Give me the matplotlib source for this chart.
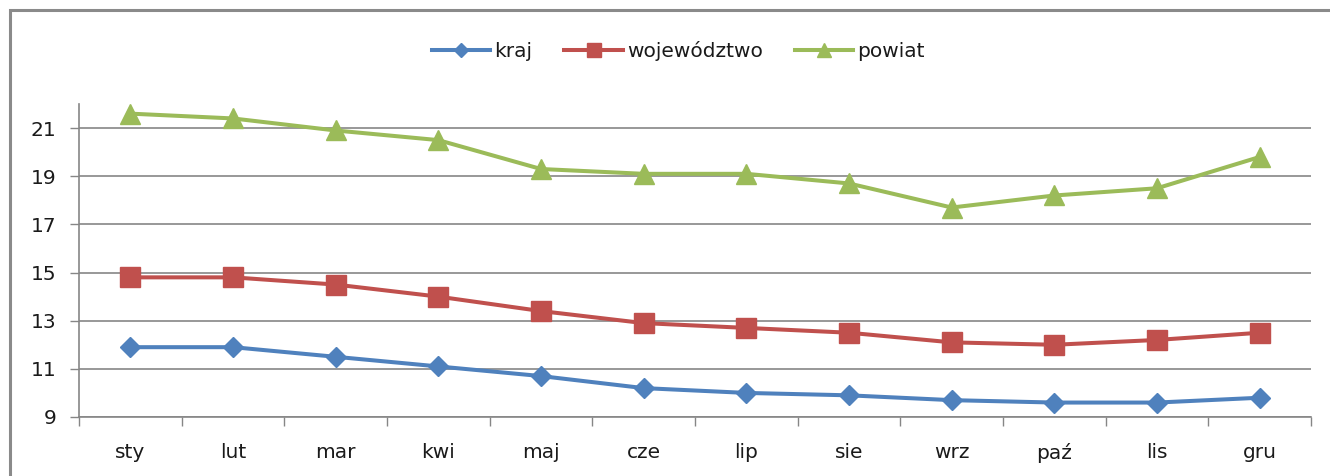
import numpy as np
import matplotlib.pyplot as plt
from matplotlib.patches import Rectangle

# data
months = ['sty', 'lut', 'mar', 'kwi', 'maj', 'cze', 'lip', 'sie', 'wrz', 'paź', 'lis', 'gru']
kraj = [11.9, 11.9, 11.5, 11.1, 10.7, 10.2, 10.0, 9.9, 9.7, 9.6, 9.6, 9.8]
wojewodztwo = [14.8, 14.8, 14.5, 14.0, 13.4, 12.9, 12.7, 12.5, 12.1, 12.0, 12.2, 12.5]
powiat = [21.6, 21.4, 20.9, 20.5, 19.3, 19.1, 19.1, 18.7, 17.7, 18.2, 18.5, 19.8]
y_ticks = [9, 11, 13, 15, 17, 19, 21]

plt.rcParams['font.family'] = ['DejaVu Sans']
plt.rcParams['text.color'] = '#1a1a1a'

fig = plt.figure(figsize=(13.3, 4.76), dpi=100)
ax = fig.add_axes([79 / 1330, 59 / 476, 1232 / 1330, 313 / 476])

# outer chart frame (no right edge visible in the reference)
fig.patches.append(Rectangle((10 / 1330, -0.1), 1.1, 1.1 - 10 / 476,
                             transform=fig.transFigure, fill=False,
                             edgecolor='#8a8a8a', linewidth=2.2))

x = np.arange(len(months))
ax.plot(x, kraj, color='#4F81BD', lw=2.9, marker='D', ms=10, label='kraj')
ax.plot(x, wojewodztwo, color='#C0504D', lw=2.9, marker='s', ms=14, label='województwo')
ax.plot(x, powiat, color='#9BBB59', lw=2.9, marker='^', ms=15, label='powiat')

ax.set_xlim(-0.5, len(months) - 0.5)
ax.set_ylim(9, 22)
ax.set_yticks(y_ticks)
ax.set_xticks(x)
ax.set_xticklabels(months)
ax.set_xticks(np.arange(-0.5, len(months)), minor=True)
ax.tick_params(axis='x', which='major', length=0, pad=19, labelsize=14.5, labelcolor='#1a1a1a')
ax.tick_params(axis='x', which='minor', length=6.5, color='#868686', width=1)
ax.tick_params(axis='y', length=6.5, color='#868686', width=1, labelsize=14.5, pad=10,
               labelcolor='#1a1a1a')
ax.grid(axis='y', color='#868686', lw=1.2)
ax.set_axisbelow(True)
for s in ['top', 'right']:
    ax.spines[s].set_visible(False)
for s in ['left', 'bottom']:
    ax.spines[s].set_color('#868686')
    ax.spines[s].set_linewidth(1.2)

fig.legend(loc='center', bbox_to_anchor=(0.51, 0.893), ncol=3, frameon=False,
           fontsize=14.5, handlelength=2.9, handletextpad=0.2, columnspacing=1.6,
           markerscale=0.7)

fig.savefig('out.png', dpi=100)
